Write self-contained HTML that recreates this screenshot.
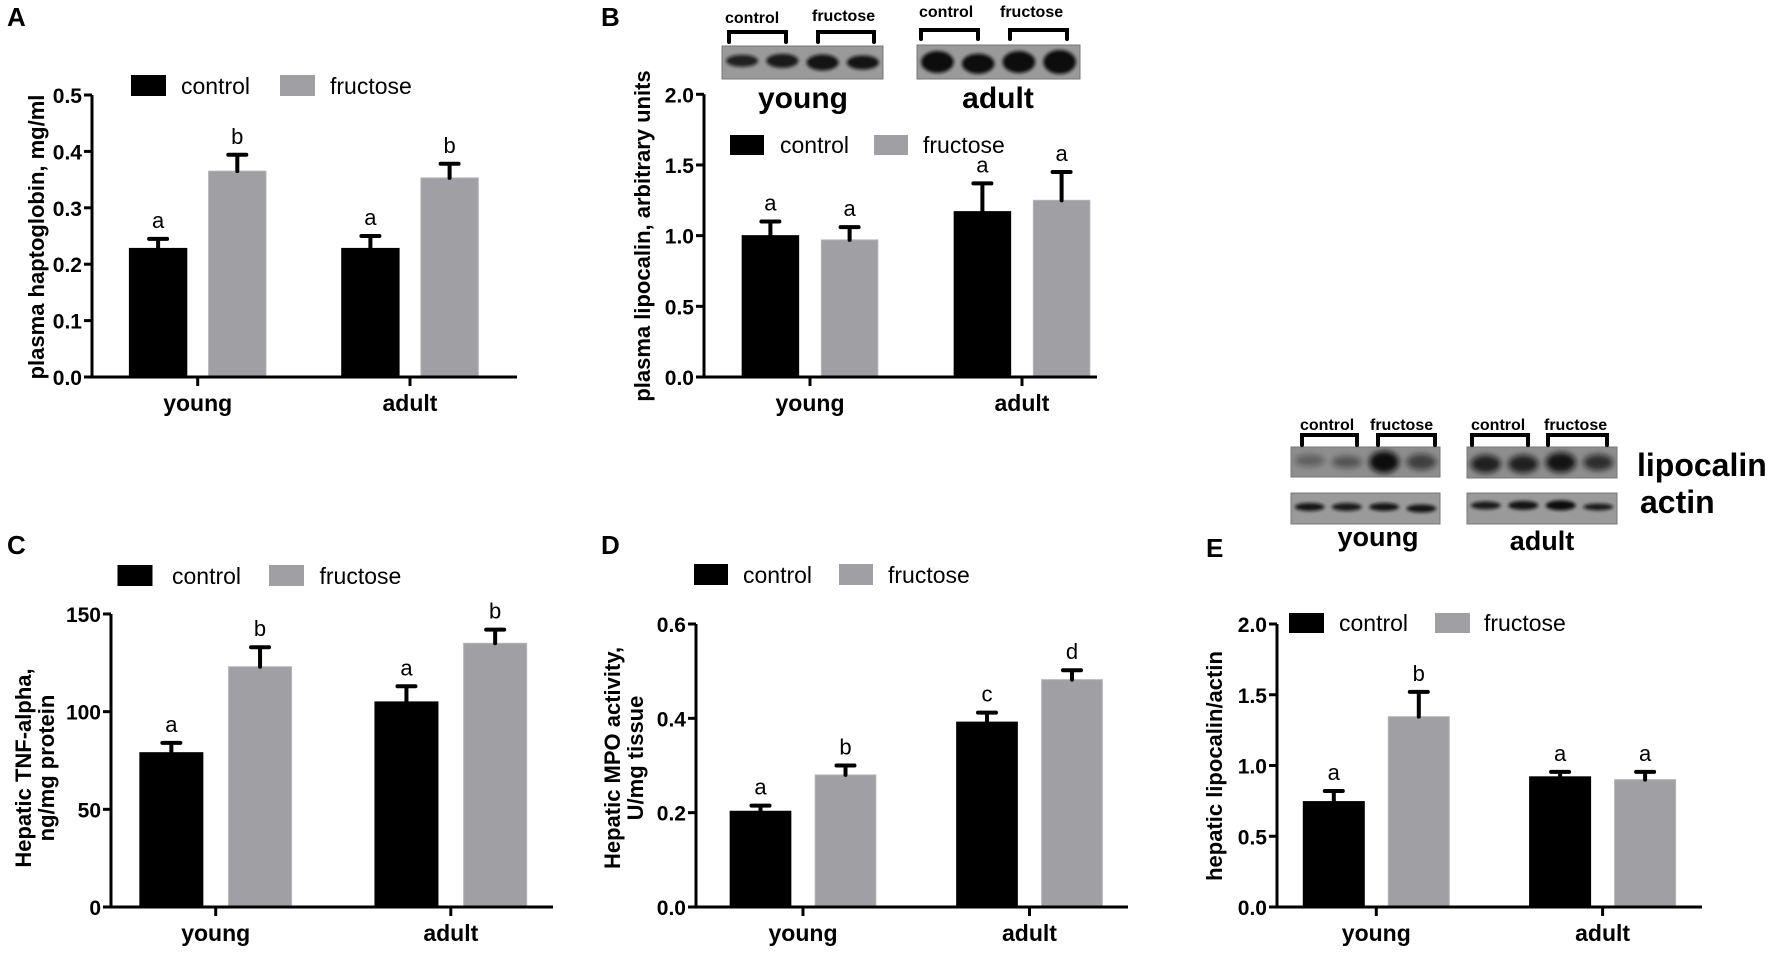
<!DOCTYPE html>
<html><head><meta charset="utf-8">
<style>
html,body{margin:0;padding:0;background:#fff;}
svg{display:block;font-family:"Liberation Sans",Arial,sans-serif;}
</style></head>
<body>
<svg id="fig" width="1772" height="953" viewBox="0 0 1772 953" xmlns="http://www.w3.org/2000/svg">
<defs>
<filter id="blur2" x="-50%" y="-50%" width="200%" height="200%"><feGaussianBlur stdDeviation="3"/></filter>
<filter id="blur1" x="-50%" y="-50%" width="200%" height="200%"><feGaussianBlur stdDeviation="1.6"/></filter>
</defs>
</svg>
<script>
// ---- data ----
const categories = ["young", "adult"];
const seriesNames = ["control", "fructose"];
const aControl = [0.228, 0.228];
const aControlErr = [0.017, 0.022];
const aFructose = [0.365, 0.353];
const aFructoseErr = [0.029, 0.025];
const aLetters = [["a","a"],["b","b"]];
const aTicks = ["0.0","0.1","0.2","0.3","0.4","0.5"];

const bControl = [1.0, 1.17];
const bControlErr = [0.10, 0.20];
const bFructose = [0.97, 1.25];
const bFructoseErr = [0.09, 0.20];
const bLetters = [["a","a"],["a","a"]];
const bTicks = ["0.0","0.5","1.0","1.5","2.0"];

const cControl = [79, 105];
const cControlErr = [5, 8];
const cFructose = [123, 135];
const cFructoseErr = [10, 7];
const cLetters = [["a","a"],["b","b"]];
const cTicks = ["0","50","100","150"];

const dControl = [0.203, 0.392];
const dControlErr = [0.012, 0.02];
const dFructose = [0.28, 0.482];
const dFructoseErr = [0.02, 0.02];
const dLetters = [["a","c"],["b","d"]];
const dTicks = ["0.0","0.2","0.4","0.6"];

const eControl = [0.745, 0.92];
const eControlErr = [0.075, 0.035];
const eFructose = [1.345, 0.90];
const eFructoseErr = [0.175, 0.055];
const eLetters = [["a","a"],["b","a"]];
const eTicks = ["0.0","0.5","1.0","1.5","2.0"];

const NS = "http://www.w3.org/2000/svg";
const svg = document.getElementById("fig");
const GREY = "#a0a0a4";

function mk(tag, attrs, parent, text) {
  const el = document.createElementNS(NS, tag);
  for (const k in attrs) el.setAttribute(k, attrs[k]);
  if (text !== undefined) el.textContent = text;
  (parent || svg).appendChild(el);
  return el;
}

function drawPanel(cfg) {
  const g = mk("g", {});
  
  
  const yMax = parseFloat(cfg.ticks[cfg.ticks.length - 1]);
  const yScale = v => cfg.y0 - (v / yMax) * (cfg.y0 - cfg.yTop);
  const xBar = (ci, si) => si === 0 ? cfg.centers[ci] - cfg.gap / 2 - cfg.bw : cfg.centers[ci] + cfg.gap / 2;

  const vals = [cfg.control, cfg.fructose];
  const errs = [cfg.controlErr, cfg.fructoseErr];
  for (let s = 0; s < 2; s++) {
    for (let c = 0; c < categories.length; c++) {
      const x = xBar(c, s);
      const yv = yScale(vals[s][c]);
      const r = mk("rect", {x: x, y: yv, width: cfg.bw, height: cfg.y0 - yv,
        fill: s === 0 ? "#000" : GREY, stroke: s === 0 ? "#000" : "#b4b4b8", "stroke-width": 1}, g);
      
      
      const cx = x + cfg.bw / 2;
      const ye = yScale(vals[s][c] + errs[s][c]);
      const eb = mk("path", {d: `M${cx},${yv} L${cx},${ye} M${cx - 9},${ye} L${cx + 9},${ye}`,
        stroke: "#000", "stroke-width": 4, "stroke-linecap": "round", fill: "none"}, g);
      
      
      const lt = mk("text", {x: cx, y: ye - 11, "text-anchor": "middle", "font-size": 22}, g, cfg.letters[s][c]);
      
      
    }
  }
  const ax = mk("path", {d: `M${cfg.x0},${cfg.yTop} L${cfg.x0},${cfg.y0} L${cfg.xEnd},${cfg.y0}`,
    stroke: "#000", "stroke-width": 3, fill: "none"}, g);
  
  
  cfg.ticks.forEach(t => {
    const y = yScale(parseFloat(t));
    mk("line", {x1: cfg.x0 - 8, x2: cfg.x0, y1: y, y2: y, stroke: "#000", "stroke-width": 3}, g);
    const tl = mk("text", {x: cfg.x0 - 10, y: y + 8, "text-anchor": "end", "font-size": 21, "font-weight": "bold"}, g, t);
    
    
  });
  categories.forEach((c, i) => {
    const x = cfg.centers[i];
    mk("line", {x1: x, x2: x, y1: cfg.y0, y2: cfg.y0 + 9, stroke: "#000", "stroke-width": 3}, g);
    const cl = mk("text", {x: x, y: cfg.y0 + 34, "text-anchor": "middle", "font-size": 23, "font-weight": "bold"}, g, c);
    
    
  });
  const yt = mk("text", {transform: `translate(${cfg.titleX},${cfg.titleY}) rotate(-90)`, "text-anchor": "middle",
    "font-size": 22, "font-weight": "bold"}, g);
  
  
  cfg.title.forEach((line, i) => {
    mk("tspan", {x: 0, dy: i === 0 ? 0 : 23}, yt, line);
  });
  const L = cfg.legend;
  const lg = mk("g", {}, g);
  
  
  mk("rect", {x: L.r1, y: L.y, width: L.w, height: L.h, fill: "#000"}, lg);
  mk("text", {x: L.t1, y: L.y + L.h - 2, "font-size": 23}, lg, "control");
  mk("rect", {x: L.r2, y: L.y, width: L.w, height: L.h, fill: GREY}, lg);
  mk("text", {x: L.t2, y: L.y + L.h - 2, "font-size": 23}, lg, "fructose");
  const pl = mk("text", {x: cfg.letterX, y: cfg.letterY, "font-size": 26, "font-weight": "bold"}, g, cfg.panel);
  
  
}

drawPanel({name: "panel-a-chart", panel: "A", letterX: 7, letterY: 26,
  x0: 92, xEnd: 517, y0: 377, yTop: 95, centers: [197.7, 410], bw: 57.4, gap: 21.8,
  ticks: aTicks, control: aControl, controlErr: aControlErr, fructose: aFructose, fructoseErr: aFructoseErr, letters: aLetters,
  title: ["plasma haptoglobin, mg/ml"], titleX: 44, titleY: 237,
  legend: {r1: 131, r2: 280, t1: 181, t2: 330, y: 75, w: 35, h: 21}});

drawPanel({name: "panel-b-chart", panel: "B", letterX: 601, letterY: 26,
  x0: 704, xEnd: 1097, y0: 377, yTop: 94.3, centers: [810, 1022], bw: 56.5, gap: 22.7,
  ticks: bTicks, control: bControl, controlErr: bControlErr, fructose: bFructose, fructoseErr: bFructoseErr, letters: bLetters,
  title: ["plasma lipocalin, arbitrary units"], titleX: 650, titleY: 236,
  legend: {r1: 730, r2: 874, t1: 780, t2: 923, y: 135, w: 34, h: 20}});

drawPanel({name: "panel-c-chart", panel: "C", letterX: 7, letterY: 554,
  x0: 111, xEnd: 553, y0: 907, yTop: 614, centers: [215.7, 450.8], bw: 63, gap: 25.7,
  ticks: cTicks, control: cControl, controlErr: cControlErr, fructose: cFructose, fructoseErr: cFructoseErr, letters: cLetters,
  title: ["Hepatic TNF-alpha,", "ng/mg protein"], titleX: 31, titleY: 768,
  legend: {r1: 117.5, r2: 269, t1: 172, t2: 319.5, y: 565, w: 35, h: 21}});

drawPanel({name: "panel-d-chart", panel: "D", letterX: 601, letterY: 554,
  x0: 696, xEnd: 1128, y0: 907, yTop: 624, centers: [803, 1029.5], bw: 60.7, gap: 24.3,
  ticks: dTicks, control: dControl, controlErr: dControlErr, fructose: dFructose, fructoseErr: dFructoseErr, letters: dLetters,
  title: ["Hepatic MPO activity,", "U/mg tissue"], titleX: 620, titleY: 758,
  legend: {r1: 694, r2: 839, t1: 743, t2: 888, y: 564, w: 34, h: 21}});

drawPanel({name: "panel-e-chart", panel: "E", letterX: 1206, letterY: 557,
  x0: 1277, xEnd: 1702, y0: 907, yTop: 624, centers: [1376.3, 1602.6], bw: 61, gap: 24,
  ticks: eTicks, control: eControl, controlErr: eControlErr, fructose: eFructose, fructoseErr: eFructoseErr, letters: eLetters,
  title: ["hepatic lipocalin/actin"], titleX: 1222, titleY: 766,
  legend: {r1: 1289, r2: 1435, t1: 1339, t2: 1484, y: 613, w: 35, h: 20}});

function blot(name, x, y, w, h, bg, bands, filt) {
  const g = mk("g", {});
  
  
  mk("rect", {x: x, y: y, width: w, height: h, fill: bg, stroke: "#777", "stroke-width": 1}, g);
  const clip = "c" + name;
  const cp = mk("clipPath", {id: clip}, g);
  mk("rect", {x: x, y: y, width: w, height: h}, cp);
  const bg2 = mk("g", {"clip-path": `url(#${clip})`}, g);
  const lw = w / 4;
  bands.forEach((b, i) => {
    mk("ellipse", {cx: x + lw * (i + 0.5), cy: y + h * b[2], rx: lw * 0.4, ry: b[0], fill: "#111", opacity: b[1], filter: `url(#${filt})`}, bg2);
  });
}
function labelText(name, x, y, size, txt, anchor) {
  const t = mk("text", {x: x, y: y, "font-size": size, "font-weight": "bold", "text-anchor": anchor || "start"}, svg, txt);
  
  
}
function bracket(name, x1, x2, y1, y2) {
  const p = mk("path", {d: `M${x1},${y2} L${x1},${y1} L${x2},${y1} L${x2},${y2}`, stroke: "#000", "stroke-width": 4, fill: "none", "stroke-linecap": "round"});
  
  
}

blot("blot-b-young", 722, 46, 161, 33, "#9a9a9a", [[6,0.85,0.45],[7,0.9,0.45],[8,0.95,0.5],[7,0.95,0.5]], "blur1");
blot("blot-b-adult", 917, 45, 163, 34, "#9a9a9a", [[11,1,0.5],[10,1,0.55],[11,1,0.5],[12,1,0.5]], "blur1");
labelText("blot-label-control", 725, 23, 16, "control");
labelText("blot-label-fructose", 812, 21, 16, "fructose");
labelText("blot-label-control", 919, 17, 16, "control");
labelText("blot-label-fructose", 1000, 17, 16, "fructose");
bracket("bracket", 729, 786, 32, 42);
bracket("bracket", 818, 874, 32, 42);
bracket("bracket", 921, 978, 30, 39);
bracket("bracket", 1010, 1067, 30, 39);
labelText("blot-group-young", 803, 108, 30, "young", "middle");
labelText("blot-group-adult", 998, 108, 30, "adult", "middle");

blot("blot-e-lipocalin-young", 1291, 447, 149, 30, "#8e8e8e", [[6,0.35,0.45],[6,0.45,0.5],[11,1,0.5],[8,0.6,0.5]], "blur2");
blot("blot-e-lipocalin-adult", 1467, 447, 150, 31, "#8e8e8e", [[9,0.85,0.55],[9,0.85,0.55],[10,0.95,0.5],[8,0.75,0.5]], "blur2");
blot("blot-e-actin-young", 1291, 493, 149, 31, "#9a9a9a", [[4,0.95,0.45],[4,0.9,0.45],[4,0.95,0.45],[4,0.95,0.5]], "blur1");
blot("blot-e-actin-adult", 1467, 493, 150, 31, "#9a9a9a", [[4,0.9,0.4],[4.5,0.95,0.4],[5,1,0.4],[3.5,0.9,0.45]], "blur1");
labelText("blot-label-control", 1300, 430, 16, "control");
labelText("blot-label-fructose", 1370, 430, 16, "fructose");
labelText("blot-label-control", 1471, 430, 16, "control");
labelText("blot-label-fructose", 1544, 430, 16, "fructose");
bracket("bracket", 1302, 1357, 435, 445);
bracket("bracket", 1378, 1435, 435, 445);
bracket("bracket", 1472, 1528, 435, 445);
bracket("bracket", 1548, 1607, 435, 445);
labelText("blot-row-lipocalin", 1637, 476, 32, "lipocalin");
labelText("blot-row-actin", 1640, 513, 32, "actin");
labelText("blot-group-young", 1378, 546, 27, "young", "middle");
labelText("blot-group-adult", 1542, 550, 27, "adult", "middle");
</script>
</body></html>
